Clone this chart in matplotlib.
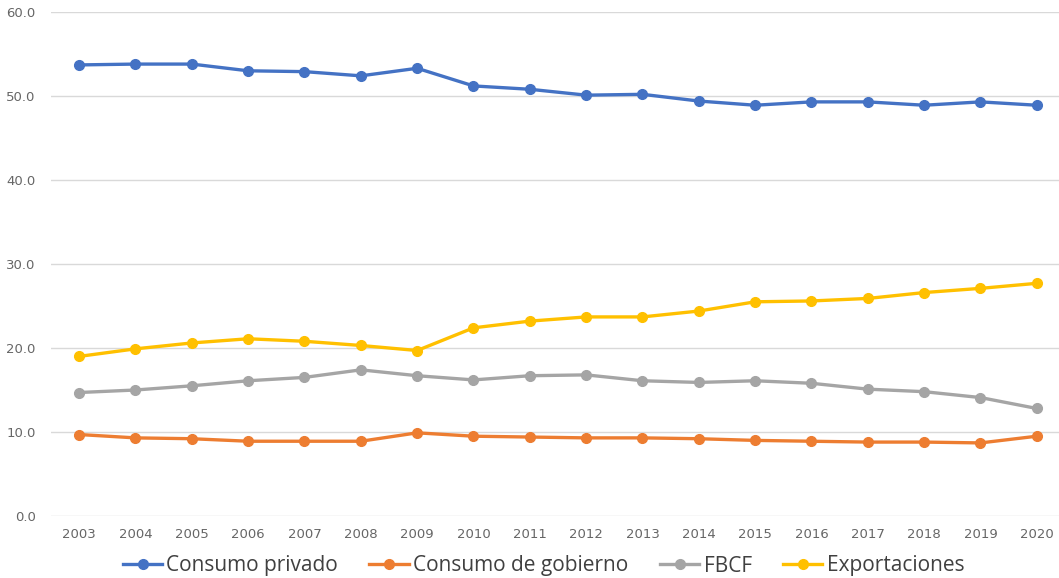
import matplotlib.pyplot as plt
import numpy as np

# datos
anios = list(range(2003, 2021))
consumo_privado = [53.7, 53.8, 53.8, 53.0, 52.9, 52.4, 53.3, 51.2, 50.8, 50.1,
                   50.2, 49.4, 48.9, 49.3, 49.3, 48.9, 49.3, 48.9]
consumo_gobierno = [9.7, 9.3, 9.2, 8.9, 8.9, 8.9, 9.9, 9.5, 9.4, 9.3,
                    9.3, 9.2, 9.0, 8.9, 8.8, 8.8, 8.7, 9.5]
fbcf = [14.7, 15.0, 15.5, 16.1, 16.5, 17.4, 16.7, 16.2, 16.7, 16.8,
        16.1, 15.9, 16.1, 15.8, 15.1, 14.8, 14.1, 12.8]
exportaciones = [19.0, 19.9, 20.6, 21.1, 20.8, 20.3, 19.7, 22.4, 23.2, 23.7,
                 23.7, 24.4, 25.5, 25.6, 25.9, 26.6, 27.1, 27.7]

series = [
    ('Consumo privado', consumo_privado, '#4472C4'),
    ('Consumo de gobierno', consumo_gobierno, '#ED7D31'),
    ('FBCF', fbcf, '#A5A5A5'),
    ('Exportaciones', exportaciones, '#FFC000'),
]

fig = plt.figure(figsize=(10.59, 5.78), dpi=100)
ax = fig.add_axes([51/1059, 1 - 516/578, (1065 - 51)/1059, (516 - 12)/578])

for nombre, vals, color in series:
    ax.plot(anios, vals, color=color, lw=2.4, marker='o', ms=7, label=nombre)

ax.set_xlim(2002.5, 2020.5)
ax.set_ylim(0, 60)
ax.set_yticks(np.arange(0, 61, 10))
ax.set_yticklabels(['%.1f' % v for v in np.arange(0, 61, 10)])
ax.set_xticks(anios)
ax.grid(axis='y', color='#D9D9D9', lw=1)
ax.set_axisbelow(True)
for s in ax.spines.values():
    s.set_visible(False)
ax.tick_params(length=0, colors='#666666', labelsize=9.5)
ax.tick_params(axis='y', pad=11)
ax.tick_params(axis='x', pad=9)
for lab in ax.get_xticklabels():
    lab.set_fontfamily(['Liberation Sans Narrow', 'DejaVu Sans'])

fig.legend(loc='center', bbox_to_anchor=(543.5/1059, 1 - 566/578), ncol=4, frameon=False,
           handlelength=1.9, handletextpad=0.2, columnspacing=1.5,
           labelcolor='#404040', prop={'family': ['Open Sans', 'DejaVu Sans'], 'size': 15})

fig.savefig('out.png', dpi=100)
